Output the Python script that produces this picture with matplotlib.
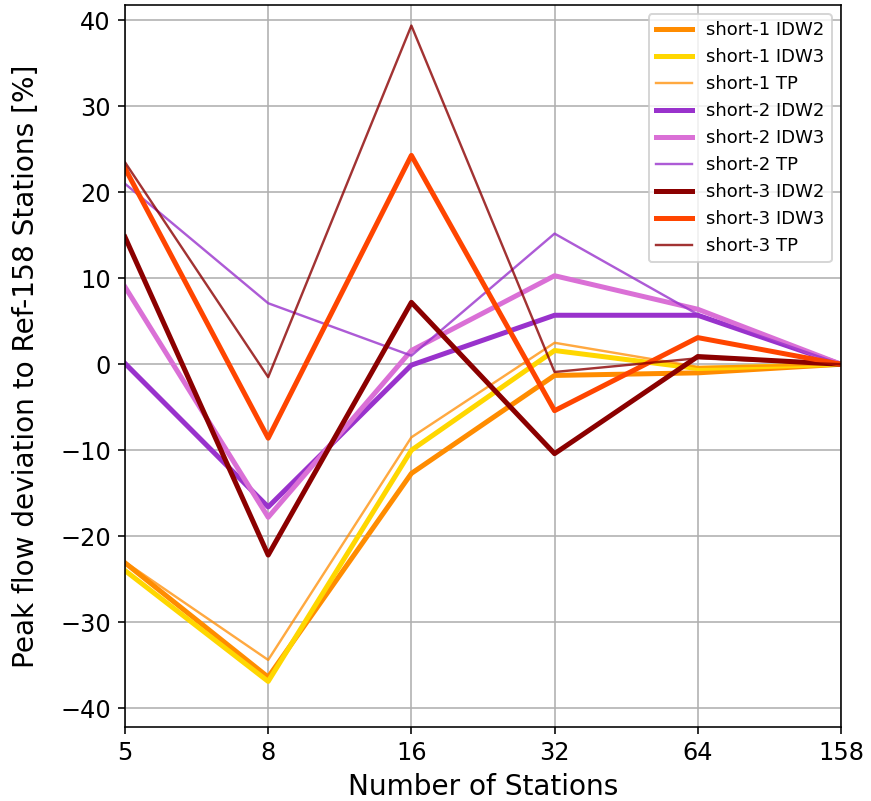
import numpy as np
import matplotlib
matplotlib.use("Agg")
import matplotlib.pyplot as plt

stations = ["5", "8", "16", "32", "64", "158"]

s1_idw2 = [-23.1, -36.4, -12.7, -1.3, -1.0, 0.0]
s1_idw3 = [-24.0, -36.9, -10.0, 1.6, -0.5, 0.0]
s1_tp = [-23.0, -34.4, -8.5, 2.5, -0.3, 0.0]
s2_idw2 = [0.1, -16.6, -0.1, 5.7, 5.7, 0.0]
s2_idw3 = [9.0, -17.8, 1.6, 10.3, 6.4, 0.0]
s2_tp = [21.0, 7.1, 1.0, 15.2, 5.8, 0.0]
s3_idw2 = [14.8, -22.2, 7.2, -10.4, 0.9, 0.0]
s3_idw3 = [22.8, -8.6, 24.3, -5.4, 3.1, 0.0]
s3_tp = [23.5, -1.5, 39.4, -0.9, 0.7, 0.0]

series = [
    ("short-1 IDW2", s1_idw2, "darkorange", 2.5, 1.0),
    ("short-1 IDW3", s1_idw3, "gold", 2.5, 1.0),
    ("short-1 TP", s1_tp, "darkorange", 1.2, 0.75),
    ("short-2 IDW2", s2_idw2, "darkorchid", 2.5, 1.0),
    ("short-2 IDW3", s2_idw3, "orchid", 2.5, 1.0),
    ("short-2 TP", s2_tp, "darkorchid", 1.2, 0.8),
    ("short-3 IDW2", s3_idw2, "darkred", 2.5, 1.0),
    ("short-3 IDW3", s3_idw3, "orangered", 2.5, 1.0),
    ("short-3 TP", s3_tp, "darkred", 1.2, 0.8),
]

fig, ax = plt.subplots(figsize=(871 / 144, 801 / 144), dpi=144)
fig.subplots_adjust(left=0.1435, right=0.9655, top=0.9938, bottom=0.0924)

x = np.arange(len(stations))
for label, vals, color, lw, alpha in series:
    ax.plot(x, vals, color=color, lw=lw, alpha=alpha, label=label)

ax.set_xlim(0, len(stations) - 1)
ax.set_ylim(-42.2, 41.8)
ax.set_xticks(x)
ax.set_xticklabels(stations)
ax.set_yticks(np.arange(-40, 41, 10))
ax.grid(True)
ax.tick_params(labelsize=12)
ax.set_xlabel("Number of Stations", fontsize=14)
ax.set_ylabel("Peak flow deviation to Ref-158 Stations [%]", fontsize=14, labelpad=10)
ax.legend(loc="upper right", fontsize=9)

fig.savefig("out.png", dpi=144)
